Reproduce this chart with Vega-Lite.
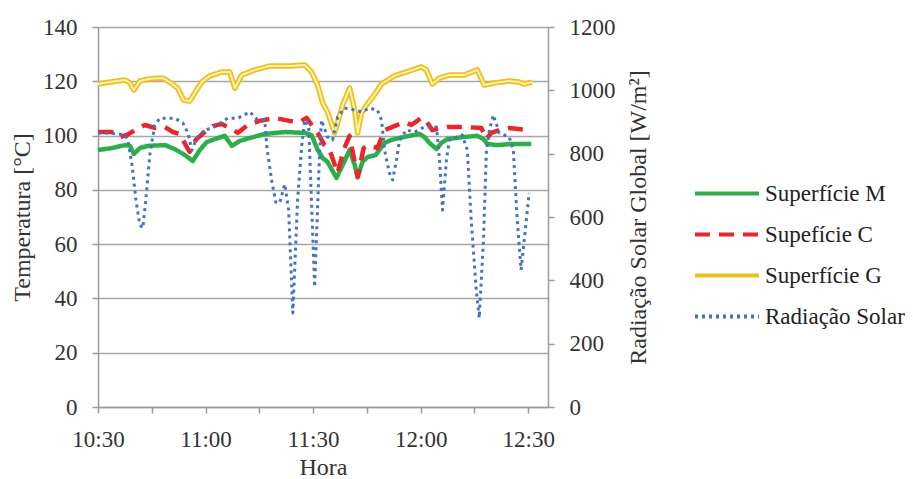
{
  "$schema": "https://vega.github.io/schema/vega-lite/v6.json",
  "width": 450,
  "height": 380,
  "autosize": {"type": "none"},
  "padding": {"left": 98, "top": 27, "right": 365, "bottom": 72},
  "background": "white",
  "config": {
    "font": "'Liberation Serif', 'Times New Roman', 'DejaVu Serif', serif",
    "view": {"stroke": null},
    "axis": {
      "labelFont": "'Liberation Serif', 'Times New Roman', 'DejaVu Serif', serif", "titleFont": "'Liberation Serif', 'Times New Roman', 'DejaVu Serif', serif",
      "labelFontSize": 23, "titleFontSize": 24, "titleFontWeight": "normal",
      "labelColor": "#333333", "titleColor": "#333333",
      "domainColor": "#9a9a9a", "domainWidth": 1.5,
      "tickColor": "#9a9a9a", "tickWidth": 1.5, "tickSize": 6,
      "labelPadding": 15, "gridColor": "#a6a6a6", "gridWidth": 1.5
    },
    "legend": {
      "symbolType": "stroke", "symbolSize": 4096, "symbolStrokeWidth": 4,
      "labelFont": "'Liberation Serif', 'Times New Roman', 'DejaVu Serif', serif", "labelFontSize": 23, "labelColor": "#222222",
      "labelOffset": 4, "rowPadding": 0, "clipHeight": 41, "labelLimit": 300
    }
  },
  "data": {
    "format": {"parse": {"t": "date:'%H:%M:%S'"}},
    "values": [
      {"t":"10:30:00","s":"Superfície M","v":94.7},{"t":"10:33:55","s":"Superfície M","v":95.4},{"t":"10:37:30","s":"Superfície M","v":96.5},{"t":"10:38:55","s":"Superfície M","v":96.2},{"t":"10:40:00","s":"Superfície M","v":93.2},{"t":"10:41:40","s":"Superfície M","v":95.4},{"t":"10:43:55","s":"Superfície M","v":96.2},{"t":"10:48:40","s":"Superfície M","v":96.5},{"t":"10:51:25","s":"Superfície M","v":95.0},{"t":"10:54:15","s":"Superfície M","v":92.8},{"t":"10:56:25","s":"Superfície M","v":90.6},{"t":"10:58:25","s":"Superfície M","v":94.7},{"t":"11:00:20","s":"Superfície M","v":97.6},{"t":"11:02:35","s":"Superfície M","v":98.7},{"t":"11:05:20","s":"Superfície M","v":99.9},{"t":"11:07:20","s":"Superfície M","v":96.2},{"t":"11:09:30","s":"Superfície M","v":98.0},{"t":"11:12:20","s":"Superfície M","v":99.1},{"t":"11:16:30","s":"Superfície M","v":100.6},{"t":"11:22:05","s":"Superfície M","v":101.3},{"t":"11:27:40","s":"Superfície M","v":101.0},{"t":"11:29:35","s":"Superfície M","v":100.2},{"t":"11:31:15","s":"Superfície M","v":94.7},{"t":"11:32:40","s":"Superfície M","v":91.7},{"t":"11:34:00","s":"Superfície M","v":90.3},{"t":"11:36:30","s":"Superfície M","v":84.4},{"t":"11:38:15","s":"Superfície M","v":89.2},{"t":"11:40:10","s":"Superfície M","v":94.7},{"t":"11:41:35","s":"Superfície M","v":89.2},{"t":"11:42:25","s":"Superfície M","v":84.7},{"t":"11:43:45","s":"Superfície M","v":90.3},{"t":"11:45:10","s":"Superfície M","v":92.1},{"t":"11:47:25","s":"Superfície M","v":92.8},{"t":"11:49:55","s":"Superfície M","v":97.3},{"t":"11:51:50","s":"Superfície M","v":98.4},{"t":"11:54:05","s":"Superfície M","v":99.1},{"t":"11:56:50","s":"Superfície M","v":99.9},{"t":"11:59:40","s":"Superfície M","v":100.6},{"t":"12:01:00","s":"Superfície M","v":99.5},{"t":"12:02:25","s":"Superfície M","v":97.3},{"t":"12:04:25","s":"Superfície M","v":95.0},{"t":"12:05:45","s":"Superfície M","v":97.3},{"t":"12:07:25","s":"Superfície M","v":98.7},{"t":"12:12:10","s":"Superfície M","v":99.5},{"t":"12:15:45","s":"Superfície M","v":99.9},{"t":"12:17:30","s":"Superfície M","v":98.7},{"t":"12:18:35","s":"Superfície M","v":96.9},{"t":"12:21:20","s":"Superfície M","v":96.5},{"t":"12:25:15","s":"Superfície M","v":96.9},{"t":"12:30:50","s":"Superfície M","v":96.9},

      {"t":"10:30:00","s":"Supefície C","v":101.3},{"t":"10:33:55","s":"Supefície C","v":101.3},{"t":"10:36:05","s":"Supefície C","v":99.5},{"t":"10:38:05","s":"Supefície C","v":100.2},{"t":"10:40:20","s":"Supefície C","v":102.0},{"t":"10:43:05","s":"Supefície C","v":103.9},{"t":"10:45:50","s":"Supefície C","v":102.8},{"t":"10:48:40","s":"Supefície C","v":103.2},{"t":"10:50:55","s":"Supefície C","v":101.3},{"t":"10:52:50","s":"Supefície C","v":100.6},{"t":"10:54:45","s":"Supefície C","v":95.8},{"t":"10:55:35","s":"Supefície C","v":94.0},{"t":"10:57:15","s":"Supefície C","v":98.4},{"t":"10:59:45","s":"Supefície C","v":101.3},{"t":"11:02:00","s":"Supefície C","v":103.5},{"t":"11:04:30","s":"Supefície C","v":104.3},{"t":"11:06:45","s":"Supefície C","v":102.8},{"t":"11:09:00","s":"Supefície C","v":101.0},{"t":"11:11:45","s":"Supefície C","v":103.9},{"t":"11:15:05","s":"Supefície C","v":105.4},{"t":"11:19:15","s":"Supefície C","v":106.5},{"t":"11:23:25","s":"Supefície C","v":105.4},{"t":"11:26:15","s":"Supefície C","v":105.0},{"t":"11:28:10","s":"Supefície C","v":106.5},{"t":"11:29:35","s":"Supefície C","v":103.9},{"t":"11:31:15","s":"Supefície C","v":101.0},{"t":"11:33:10","s":"Supefície C","v":96.5},{"t":"11:34:35","s":"Supefície C","v":94.7},{"t":"11:36:50","s":"Supefície C","v":86.2},{"t":"11:38:30","s":"Supefície C","v":94.7},{"t":"11:40:10","s":"Supefície C","v":99.9},{"t":"11:42:25","s":"Supefície C","v":84.7},{"t":"11:44:05","s":"Supefície C","v":95.4},{"t":"11:45:45","s":"Supefície C","v":96.5},{"t":"11:47:55","s":"Supefície C","v":95.4},{"t":"11:49:55","s":"Supefície C","v":102.0},{"t":"11:52:40","s":"Supefície C","v":103.5},{"t":"11:55:30","s":"Supefície C","v":105.0},{"t":"11:57:25","s":"Supefície C","v":103.9},{"t":"12:00:10","s":"Supefície C","v":106.5},{"t":"12:01:20","s":"Supefície C","v":105.7},{"t":"12:03:15","s":"Supefície C","v":102.0},{"t":"12:07:25","s":"Supefície C","v":103.2},{"t":"12:11:35","s":"Supefície C","v":103.2},{"t":"12:16:55","s":"Supefície C","v":102.8},{"t":"12:18:20","s":"Supefície C","v":98.7},{"t":"12:19:40","s":"Supefície C","v":101.0},{"t":"12:21:55","s":"Supefície C","v":102.0},{"t":"12:24:40","s":"Supefície C","v":102.8},{"t":"12:30:15","s":"Supefície C","v":102.0},

      {"t":"10:30:00","s":"Superfície G","v":119.0},{"t":"10:33:20","s":"Superfície G","v":119.7},{"t":"10:37:30","s":"Superfície G","v":120.5},{"t":"10:38:55","s":"Superfície G","v":119.4},{"t":"10:40:00","s":"Superfície G","v":116.8},{"t":"10:41:40","s":"Superfície G","v":120.1},{"t":"10:44:30","s":"Superfície G","v":120.9},{"t":"10:48:05","s":"Superfície G","v":121.2},{"t":"10:50:00","s":"Superfície G","v":119.7},{"t":"10:52:15","s":"Superfície G","v":117.5},{"t":"10:53:55","s":"Superfície G","v":113.0},{"t":"10:55:35","s":"Superfície G","v":112.7},{"t":"10:57:00","s":"Superfície G","v":115.7},{"t":"10:58:55","s":"Superfície G","v":119.7},{"t":"11:01:10","s":"Superfície G","v":122.0},{"t":"11:04:30","s":"Superfície G","v":123.4},{"t":"11:06:45","s":"Superfície G","v":123.4},{"t":"11:08:10","s":"Superfície G","v":117.5},{"t":"11:10:05","s":"Superfície G","v":122.3},{"t":"11:13:45","s":"Superfície G","v":124.2},{"t":"11:17:55","s":"Superfície G","v":125.6},{"t":"11:23:25","s":"Superfície G","v":125.6},{"t":"11:27:40","s":"Superfície G","v":126.0},{"t":"11:29:35","s":"Superfície G","v":123.4},{"t":"11:31:15","s":"Superfície G","v":118.6},{"t":"11:32:40","s":"Superfície G","v":112.0},{"t":"11:34:00","s":"Superfície G","v":108.7},{"t":"11:36:00","s":"Superfície G","v":101.0},{"t":"11:38:15","s":"Superfície G","v":111.3},{"t":"11:40:10","s":"Superfície G","v":117.5},{"t":"11:41:35","s":"Superfície G","v":109.4},{"t":"11:42:25","s":"Superfície G","v":101.0},{"t":"11:43:30","s":"Superfície G","v":108.3},{"t":"11:44:55","s":"Superfície G","v":111.3},{"t":"11:47:05","s":"Superfície G","v":115.0},{"t":"11:49:05","s":"Superfície G","v":119.0},{"t":"11:52:40","s":"Superfície G","v":122.0},{"t":"11:56:50","s":"Superfície G","v":123.8},{"t":"12:00:10","s":"Superfície G","v":125.3},{"t":"12:01:35","s":"Superfície G","v":124.2},{"t":"12:03:15","s":"Superfície G","v":119.0},{"t":"12:05:15","s":"Superfície G","v":121.2},{"t":"12:08:00","s":"Superfície G","v":122.3},{"t":"12:12:10","s":"Superfície G","v":122.3},{"t":"12:15:45","s":"Superfície G","v":124.2},{"t":"12:17:45","s":"Superfície G","v":118.6},{"t":"12:20:30","s":"Superfície G","v":119.4},{"t":"12:24:40","s":"Superfície G","v":120.1},{"t":"12:27:30","s":"Superfície G","v":119.7},{"t":"12:28:50","s":"Superfície G","v":119.0},{"t":"12:31:05","s":"Superfície G","v":119.7},

      {"t":"10:30:00","s":"Radiação Solar","v":865},{"t":"10:33:20","s":"Radiação Solar","v":865},{"t":"10:37:30","s":"Radiação Solar","v":859},{"t":"10:38:20","s":"Radiação Solar","v":843},{"t":"10:39:30","s":"Radiação Solar","v":764},{"t":"10:40:35","s":"Radiação Solar","v":654},{"t":"10:41:40","s":"Radiação Solar","v":575},{"t":"10:42:30","s":"Radiação Solar","v":565},{"t":"10:43:20","s":"Radiação Solar","v":654},{"t":"10:44:30","s":"Radiação Solar","v":802},{"t":"10:45:50","s":"Radiação Solar","v":890},{"t":"10:47:15","s":"Radiação Solar","v":912},{"t":"10:51:25","s":"Radiação Solar","v":912},{"t":"10:53:40","s":"Radiação Solar","v":897},{"t":"10:55:05","s":"Radiação Solar","v":865},{"t":"10:56:10","s":"Radiação Solar","v":811},{"t":"10:57:35","s":"Radiação Solar","v":850},{"t":"10:59:45","s":"Radiação Solar","v":875},{"t":"11:02:00","s":"Radiação Solar","v":881},{"t":"11:06:10","s":"Radiação Solar","v":912},{"t":"11:09:00","s":"Radiação Solar","v":912},{"t":"11:12:20","s":"Radiação Solar","v":932},{"t":"11:14:15","s":"Radiação Solar","v":909},{"t":"11:16:30","s":"Radiação Solar","v":906},{"t":"11:17:05","s":"Radiação Solar","v":821},{"t":"11:18:25","s":"Radiação Solar","v":717},{"t":"11:19:35","s":"Radiação Solar","v":647},{"t":"11:20:40","s":"Radiação Solar","v":644},{"t":"11:22:05","s":"Radiação Solar","v":704},{"t":"11:23:10","s":"Radiação Solar","v":622},{"t":"11:24:20","s":"Radiação Solar","v":297},{"t":"11:25:40","s":"Radiação Solar","v":654},{"t":"11:26:50","s":"Radiação Solar","v":827},{"t":"11:27:40","s":"Radiação Solar","v":906},{"t":"11:28:45","s":"Radiação Solar","v":890},{"t":"11:30:25","s":"Radiação Solar","v":379},{"t":"11:31:50","s":"Radiação Solar","v":811},{"t":"11:32:20","s":"Radiação Solar","v":906},{"t":"11:34:00","s":"Radiação Solar","v":853},{"t":"11:35:25","s":"Radiação Solar","v":843},{"t":"11:36:50","s":"Radiação Solar","v":916},{"t":"11:38:45","s":"Radiação Solar","v":944},{"t":"11:41:35","s":"Radiação Solar","v":938},{"t":"11:43:30","s":"Radiação Solar","v":932},{"t":"11:45:45","s":"Radiação Solar","v":944},{"t":"11:47:55","s":"Radiação Solar","v":938},{"t":"11:49:05","s":"Radiação Solar","v":906},{"t":"11:49:55","s":"Radiação Solar","v":811},{"t":"11:51:15","s":"Radiação Solar","v":739},{"t":"11:52:10","s":"Radiação Solar","v":717},{"t":"11:53:15","s":"Radiação Solar","v":780},{"t":"11:54:05","s":"Radiação Solar","v":843},{"t":"11:56:00","s":"Radiação Solar","v":875},{"t":"11:58:15","s":"Radiação Solar","v":868},{"t":"12:01:00","s":"Radiação Solar","v":884},{"t":"12:04:25","s":"Radiação Solar","v":884},{"t":"12:05:15","s":"Radiação Solar","v":780},{"t":"12:06:05","s":"Radiação Solar","v":622},{"t":"12:07:10","s":"Radiação Solar","v":780},{"t":"12:08:00","s":"Radiação Solar","v":843},{"t":"12:11:35","s":"Radiação Solar","v":859},{"t":"12:13:00","s":"Radiação Solar","v":811},{"t":"12:14:05","s":"Radiação Solar","v":590},{"t":"12:15:30","s":"Radiação Solar","v":369},{"t":"12:16:20","s":"Radiação Solar","v":281},{"t":"12:17:30","s":"Radiação Solar","v":527},{"t":"12:18:20","s":"Radiação Solar","v":811},{"t":"12:19:10","s":"Radiação Solar","v":875},{"t":"12:20:15","s":"Radiação Solar","v":922},{"t":"12:21:55","s":"Radiação Solar","v":865},{"t":"12:24:40","s":"Radiação Solar","v":853},{"t":"12:25:50","s":"Radiação Solar","v":811},{"t":"12:26:55","s":"Radiação Solar","v":590},{"t":"12:28:00","s":"Radiação Solar","v":433},{"t":"12:29:10","s":"Radiação Solar","v":559},{"t":"12:30:15","s":"Radiação Solar","v":676}
    ]
  },
  "encoding": {
    "x": {
      "field": "t", "type": "temporal",
      "scale": {"domain": [
        {"year": 1900, "month": 1, "date": 1, "hours": 10, "minutes": 30},
        {"year": 1900, "month": 1, "date": 1, "hours": 12, "minutes": 35, "seconds": 30}
      ]},
      "axis": {
        "title": "Hora", "titlePadding": 4, "grid": false,
        "values": [
          {"year": 1900, "month": 1, "date": 1, "hours": 10, "minutes": 30},
          {"year": 1900, "month": 1, "date": 1, "hours": 10, "minutes": 45},
          {"year": 1900, "month": 1, "date": 1, "hours": 11, "minutes": 0},
          {"year": 1900, "month": 1, "date": 1, "hours": 11, "minutes": 15},
          {"year": 1900, "month": 1, "date": 1, "hours": 11, "minutes": 30},
          {"year": 1900, "month": 1, "date": 1, "hours": 11, "minutes": 45},
          {"year": 1900, "month": 1, "date": 1, "hours": 12, "minutes": 0},
          {"year": 1900, "month": 1, "date": 1, "hours": 12, "minutes": 15},
          {"year": 1900, "month": 1, "date": 1, "hours": 12, "minutes": 30}
        ],
        "labelExpr": "minutes(datum.value) % 30 === 0 ? timeFormat(datum.value, '%H:%M') : ''",
        "labelFlush": false, "labelOverlap": false
      }
    }
  },
  "layer": [
    {
      "encoding": {
        "y": {
          "field": "v", "type": "quantitative",
          "scale": {"domain": [0, 140]},
          "axis": {"title": "Temperatura [°C]", "values": [0, 20, 40, 60, 80, 100, 120, 140], "grid": true, "titlePadding": 8}
        }
      },
      "layer": [
        {
          "transform": [{"filter": "datum.s === 'Superfície M'"}],
          "mark": {"type": "line", "strokeWidth": 4.5, "strokeJoin": "round"},
          "encoding": {
            "color": {"field": "s", "type": "nominal", "scale": {"domain": ["Superfície M", "Supefície C", "Superfície G", "Radiação Solar"], "range": ["#2EAD4B", "#E8262B", "#EDBE22", "#4472C4"]}, "legend": {"title": null, "orient": "none", "legendX": 595, "legendY": 146}},
            "strokeDash": {"field": "s", "type": "nominal", "scale": {"domain": ["Superfície M", "Supefície C", "Superfície G", "Radiação Solar"], "range": [[1, 0], [15, 9], [1, 0], [3, 4]]}, "legend": {"title": null, "orient": "none", "legendX": 595, "legendY": 146}}
          }
        },
        {
          "transform": [{"filter": "datum.s === 'Supefície C'"}],
          "mark": {"type": "line", "strokeWidth": 4.5, "strokeJoin": "round"},
          "encoding": {
            "color": {"field": "s", "type": "nominal", "scale": {"domain": ["Superfície M", "Supefície C", "Superfície G", "Radiação Solar"], "range": ["#2EAD4B", "#E8262B", "#EDBE22", "#4472C4"]}, "legend": {"title": null, "orient": "none", "legendX": 595, "legendY": 146}},
            "strokeDash": {"field": "s", "type": "nominal", "scale": {"domain": ["Superfície M", "Supefície C", "Superfície G", "Radiação Solar"], "range": [[1, 0], [15, 9], [1, 0], [3, 4]]}, "legend": {"title": null, "orient": "none", "legendX": 595, "legendY": 146}}
          }
        },
        {
          "transform": [{"filter": "datum.s === 'Superfície G'"}],
          "mark": {"type": "line", "strokeWidth": 5.5, "strokeJoin": "round"},
          "encoding": {
            "color": {"field": "s", "type": "nominal", "scale": {"domain": ["Superfície M", "Supefície C", "Superfície G", "Radiação Solar"], "range": ["#2EAD4B", "#E8262B", "#EDBE22", "#4472C4"]}, "legend": {"title": null, "orient": "none", "legendX": 595, "legendY": 146}},
            "strokeDash": {"field": "s", "type": "nominal", "scale": {"domain": ["Superfície M", "Supefície C", "Superfície G", "Radiação Solar"], "range": [[1, 0], [15, 9], [1, 0], [3, 4]]}, "legend": {"title": null, "orient": "none", "legendX": 595, "legendY": 146}}
          }
        },
        {
          "transform": [{"filter": "datum.s === 'Superfície G'"}],
          "mark": {"type": "line", "strokeWidth": 2, "strokeJoin": "round", "color": "#FFF3A6"},
          "encoding": {}
        }
      ]
    },
    {
      "transform": [{"filter": "datum.s === 'Radiação Solar'"}],
      "mark": {"type": "line", "strokeWidth": 3, "strokeJoin": "round"},
      "encoding": {
        "y": {
          "field": "v", "type": "quantitative",
          "scale": {"domain": [0, 1200]},
          "axis": {"orient": "right", "title": "Radiação Solar Global [W/m²]", "format": "d", "values": [0, 200, 400, 600, 800, 1000, 1200], "grid": false, "titleAngle": 270, "titleBaseline": "top", "titlePadding": 11}
        },
        "color": {"field": "s", "type": "nominal", "scale": {"domain": ["Superfície M", "Supefície C", "Superfície G", "Radiação Solar"], "range": ["#2EAD4B", "#E8262B", "#EDBE22", "#4472C4"]}, "legend": {"title": null, "orient": "none", "legendX": 595, "legendY": 146}},
        "strokeDash": {"field": "s", "type": "nominal", "scale": {"domain": ["Superfície M", "Supefície C", "Superfície G", "Radiação Solar"], "range": [[1, 0], [15, 9], [1, 0], [3, 4]]}, "legend": {"title": null, "orient": "none", "legendX": 595, "legendY": 146}}
      }
    }
  ],
  "resolve": {"scale": {"y": "independent"}}
}
